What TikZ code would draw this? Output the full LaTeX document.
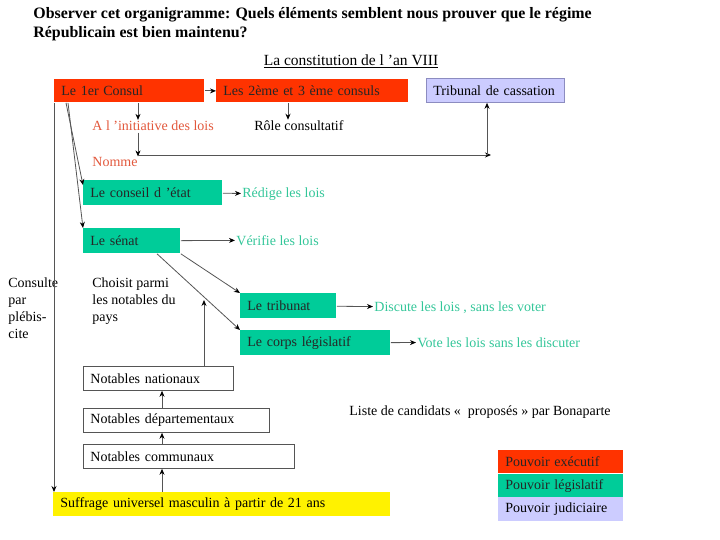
\documentclass[tikz,border=0pt]{standalone}
\usepackage{fontspec}
\setmainfont{Liberation Serif}
\usetikzlibrary{arrows.meta}

\definecolor{execred}{HTML}{FF3300}
\definecolor{legisgreen}{HTML}{00CC99}
\definecolor{legistext}{HTML}{33C699}
\definecolor{judblue}{HTML}{CCCCFF}
\definecolor{judline}{HTML}{8C8CC0}
\definecolor{initred}{HTML}{E2583C}
\definecolor{wire}{HTML}{555555}

\tikzset{
  box/.style={rectangle, anchor=north west, inner xsep=7pt, inner ysep=0pt,
              align=left, text=black, font=\fontsize{14}{16.7}\selectfont},
  exec/.style={box, fill=execred, text=black!85},
  legis/.style={box, fill=legisgreen, text=black!85},
  judic/.style={box, fill=judblue, draw=judline},
  notab/.style={box, draw=wire, fill=white},
  lbl/.style={anchor=base west, inner sep=1pt, align=left, text=black,
              font=\fontsize{14}{16.7}\selectfont}
}

\begin{document}
\begin{tikzpicture}[x=1pt,y=-1pt,->,>={Stealth[length=6pt,width=5pt,black]},draw=wire,
                    line width=0.8pt]

  \useasboundingbox (0,0) rectangle (720,540);

  % titre (base = derniere ligne)
  \node[lbl, font=\fontsize{15.9}{19}\selectfont\bfseries] (titre) at (32,38)
    {Observer cet organigramme: Quels éléments semblent nous prouver que le régime\\
     Républicain est bien maintenu?};
  \node[anchor=base, inner sep=1pt, font=\fontsize{15.5}{18}\selectfont] (soustitre) at (351,66)
    {\underline{La constitution de l 'an VIII}};

  % executif
  \node[exec, text width=136pt, minimum height=23pt] (consul1) at (54,79) {Le 1er Consul};
  \node[exec, text width=178pt, minimum height=23pt] (consuls2) at (216,79) {Les 2ème et 3 ème consuls};
  \node[judic, text width=124pt, minimum height=24pt] (cassation) at (426,78) {Tribunal de cassation};

  \node[lbl, text=initred] (init) at (91,131) {A l 'initiative des lois};
  \node[lbl] (role) at (253,131) {Rôle consultatif};
  \node[lbl, text=initred] (nomme) at (91,167) {Nomme};

  % legislatif
  \node[legis, text width=125pt, minimum height=25pt] (conseil) at (83,180) {Le conseil d 'état};
  \node[lbl, text=legistext] (redige) at (241,197) {Rédige les lois};
  \node[legis, text width=83pt, minimum height=25pt] (senat) at (83,228) {Le sénat};
  \node[lbl, text=legistext] (verifie) at (235,245) {Vérifie les lois};
  \node[legis, text width=82pt, minimum height=25pt] (tribunat) at (240,293) {Le tribunat};
  \node[lbl, text=legistext] (discute) at (373,311) {Discute les lois , sans les voter};
  \node[legis, text width=136pt, minimum height=25pt] (corps) at (240,330) {Le corps législatif};
  \node[lbl, text=legistext] (vote) at (416,347) {Vote les lois sans les discuter};

  \node[lbl] (consulte) at (7,338) {Consulte\\par\\plébis-\\cite};
  \node[lbl] (choisit) at (91,321) {Choisit parmi\\les notables du\\pays};

  % notables
  \node[notab, text width=136pt, minimum height=24pt] (nationaux) at (83,366) {Notables nationaux};
  \node[notab, text width=172pt, minimum height=24pt] (departementaux) at (83,408) {Notables départementaux};
  \node[notab, text width=197pt, minimum height=24pt] (communaux) at (83,444) {Notables communaux};
  \node[box, fill=yellow, text width=323pt, minimum height=24pt] (suffrage) at (53,492)
    {Suffrage universel masculin à partir de 21 ans};
  \node[lbl] (liste) at (348,415) {Liste de candidats «~ proposés » par Bonaparte};

  % legende
  \node[exec, text width=111pt, minimum height=23pt] (legexec) at (498,450) {Pouvoir exécutif};
  \node[legis, text width=111pt, minimum height=23pt] (leglegis) at (498,474) {Pouvoir législatif};
  \node[box, fill=judblue, text width=111pt, minimum height=24pt] (legjud) at (498,497) {Pouvoir judiciaire};

  \coordinate (fork) at (138,155);
  \coordinate (cassfoot) at (487,155);

  \path (consul1) edge (consuls2)
        ([xshift=72pt]consuls2.south west) edge ([xshift=72pt]consuls2.south west |- role.north)
        ([xshift=84pt]consul1.south west) edge ([xshift=84pt]consul1.south west |- init.north)
        ([xshift=47pt]init.south west) edge (fork |- nomme.north)
        (fork) edge ([xshift=4pt]cassfoot)
        (cassfoot) edge (cassfoot |- cassation.south)
        (consul1.south west) edge (consul1.south west |- suffrage.north)
        ([xshift=12pt]consul1.south west) edge ([yshift=-5pt]conseil.north west)
        ([xshift=14pt]consul1.south west) edge (senat.north west)
        (conseil) edge (redige)
        (senat) edge (verifie)
        (senat.south east) edge (tribunat.north west)
        ([xshift=74pt]senat.south west) edge (corps.north west)
        (tribunat) edge (discute)
        (corps) edge (vote)
        ([xshift=121pt]nationaux.north west) edge ++(0,-66)
        ([xshift=79pt]departementaux.north west) edge ([xshift=79pt]nationaux.south west)
        ([xshift=79pt]communaux.north west) edge ([xshift=79pt]departementaux.south west)
        ([xshift=109pt]suffrage.north west) edge ([xshift=109pt]suffrage.north west |- communaux.south);
\end{tikzpicture}
\end{document}
